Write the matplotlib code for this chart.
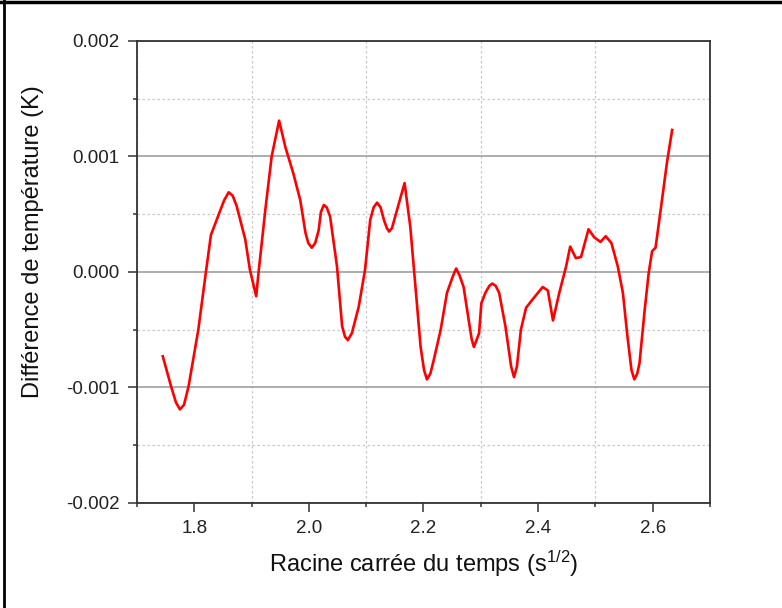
import numpy as np
import matplotlib
matplotlib.use('Agg')
import matplotlib.pyplot as plt
from matplotlib.lines import Line2D
from matplotlib.ticker import MultipleLocator, FormatStrFormatter

plt.rcParams['font.family'] = ['Liberation Sans', 'DejaVu Sans']
plt.rcParams['mathtext.fontset'] = 'custom'
plt.rcParams['mathtext.rm'] = 'Liberation Sans'
plt.rcParams['mathtext.it'] = 'Liberation Sans'

# values
sqrt_t = [1.745, 1.760, 1.768, 1.775, 1.782, 1.790, 1.807, 1.820, 1.829, 1.842,
          1.852, 1.860, 1.867, 1.874, 1.889, 1.897, 1.908, 1.912, 1.924, 1.935,
          1.948, 1.959, 1.973, 1.985, 1.994, 1.999, 2.005, 2.011, 2.017, 2.021,
          2.026, 2.031, 2.037, 2.049, 2.058, 2.063, 2.068, 2.075, 2.087, 2.098,
          2.107, 2.113, 2.119, 2.125, 2.131, 2.136, 2.140, 2.145, 2.154, 2.167,
          2.177, 2.186, 2.195, 2.201, 2.206, 2.212, 2.218, 2.230, 2.241, 2.251,
          2.257, 2.263, 2.270, 2.279, 2.284, 2.288, 2.297, 2.301, 2.308, 2.315,
          2.320, 2.326, 2.332, 2.343, 2.353, 2.358, 2.363, 2.370, 2.379, 2.390,
          2.408, 2.417, 2.426, 2.437, 2.449, 2.456, 2.466, 2.475, 2.488, 2.498,
          2.509, 2.518, 2.528, 2.539, 2.548, 2.556, 2.563, 2.568, 2.573, 2.577,
          2.586, 2.593, 2.599, 2.605, 2.614, 2.625, 2.634]
delta_T = [-0.00073, -0.00100, -0.00113, -0.00119, -0.00115, -0.00099, -0.00050, -0.00001, 0.00032, 0.00049,
           0.00062, 0.00069, 0.00066, 0.00057, 0.00028, 0.00002, -0.00021, -0.00001, 0.00054, 0.00100,
           0.00131, 0.00108, 0.00085, 0.00062, 0.00034, 0.00025, 0.00021, 0.00025, 0.00036, 0.00052,
           0.00058, 0.00056, 0.00048, 0.00005, -0.00047, -0.00056, -0.00059, -0.00053, -0.00030, 0.00002,
           0.00045, 0.00056, 0.00060, 0.00056, 0.00045, 0.00038, 0.00035, 0.00038, 0.00054, 0.00077,
           0.00039, -0.00013, -0.00065, -0.00085, -0.00093, -0.00088, -0.00076, -0.00050, -0.00018, -0.00004,
           0.00003, -0.00003, -0.00013, -0.00042, -0.00058, -0.00065, -0.00053, -0.00027, -0.00018, -0.00012,
           -0.00010, -0.00012, -0.00018, -0.00047, -0.00082, -0.00091, -0.00082, -0.00050, -0.00031, -0.00024,
           -0.00013, -0.00016, -0.00042, -0.00018, 0.00005, 0.00022, 0.00012, 0.00013, 0.00037, 0.00030,
           0.00026, 0.00031, 0.00025, 0.00005, -0.00018, -0.00056, -0.00085, -0.00093, -0.00088, -0.00079,
           -0.00033, -0.00001, 0.00018, 0.00021, 0.00054, 0.00095, 0.00123]

fig = plt.figure(figsize=(7.82, 6.08), dpi=100)
ax = fig.add_axes([0.1752, 0.1727, 0.7327, 0.7599])

ax.plot(sqrt_t, delta_T, color='#ff0000', lw=1.9, zorder=3, solid_joinstyle='round')

ax.set_xlim(1.7, 2.7)
ax.set_ylim(-0.002, 0.002)
ax.xaxis.set_major_locator(MultipleLocator(0.2))
ax.xaxis.set_minor_locator(MultipleLocator(0.1))
ax.yaxis.set_major_locator(MultipleLocator(0.001))
ax.yaxis.set_minor_locator(MultipleLocator(0.0005))
ax.xaxis.set_major_formatter(FormatStrFormatter('%.1f'))
ax.yaxis.set_major_formatter(FormatStrFormatter('%.3f'))

# grid: solid on major y, dotted on minor x and y
ax.grid(True, which='major', axis='y', color='#a0a0a0', lw=1.2, ls='-', zorder=1)
ax.grid(True, which='minor', axis='both', color='#c8c8c8', lw=0.9, ls=(0, (2, 2)), zorder=1)
ax.set_axisbelow(True)

for s in ax.spines.values():
    s.set_color('#333333')
    s.set_linewidth(1.3)

ax.tick_params(which='major', direction='out', length=6.5, width=1.1, color='#333333',
               labelsize=13.5, labelcolor='#222222', pad=6)
ax.tick_params(which='minor', direction='out', length=3, width=1.1, color='#333333')
ax.tick_params(top=False, right=False, which='both')

ax.set_xlabel(r'Racine carrée du temps (s$^{1/2}$)', fontsize=17, color='#111111', va='center')
ax.set_ylabel('Différence de température (K)', fontsize=17, color='#111111', va='center')
ax.xaxis.set_label_coords(0.5, -0.132)
ax.yaxis.set_label_coords(-0.181, 0.566)

# frame lines along the top and left of the picture
fig.add_artist(Line2D([0, 1], [0.9965, 0.9965], color='black', lw=2.5, transform=fig.transFigure))
fig.add_artist(Line2D([0.005, 0.005], [0, 1], color='black', lw=2.0, transform=fig.transFigure))

fig.savefig('out.png', dpi=100)
